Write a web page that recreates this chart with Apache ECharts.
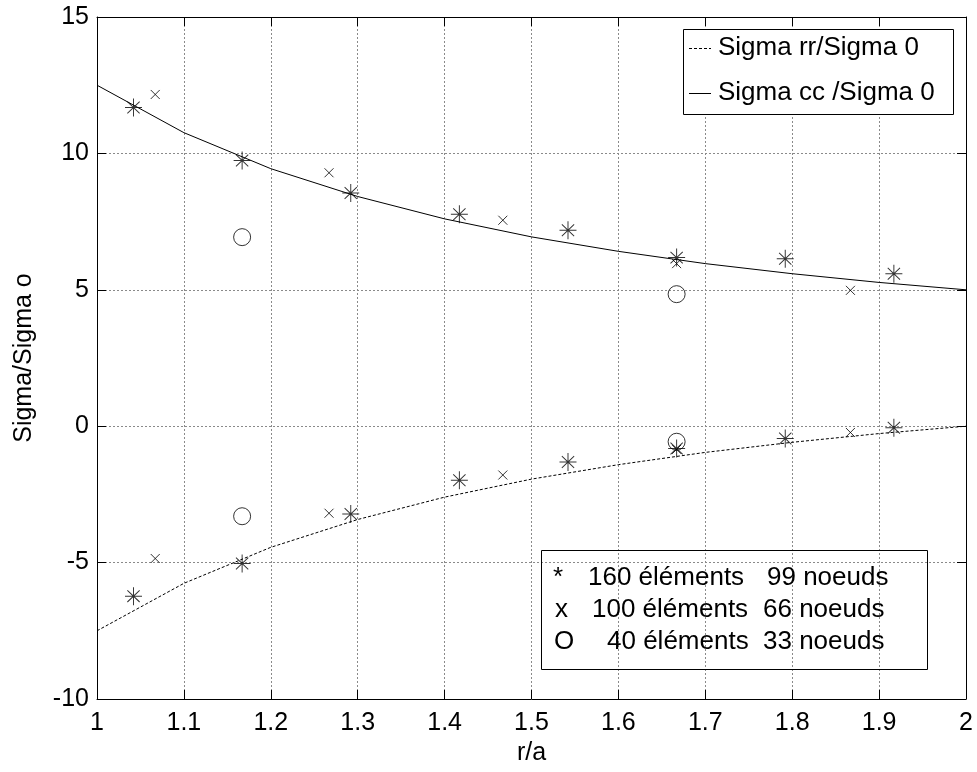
<!DOCTYPE html>
<html>
<head>
<meta charset="utf-8">
<script src="https://cdn.jsdelivr.net/npm/echarts@6/dist/echarts.min.js"></script>
<style>html,body{margin:0;padding:0;background:#fff;}#c{width:977px;height:772px;}</style>
</head>
<body>
<div id="c"></div>
<script>
// ---- data ----
const rLine  = [1.0, 1.1, 1.2, 1.3, 1.4, 1.5, 1.6, 1.7, 1.8, 1.9, 2.0];
const rrLine = [-7.50, -5.76, -4.44, -3.42, -2.60, -1.94, -1.41, -0.96, -0.59, -0.27, 0.00];
const ccLine = [12.50, 10.76, 9.44, 8.42, 7.60, 6.94, 6.41, 5.96, 5.59, 5.27, 5.00];

const r160  = [1.042, 1.167, 1.292, 1.417, 1.542, 1.667, 1.792, 1.917];
const cc160 = [11.68, 9.74, 8.55, 7.77, 7.18, 6.18, 6.14, 5.59];
const rr160 = [-6.23, -5.03, -3.22, -1.98, -1.31, -0.82, -0.45, -0.06];

const r100  = [1.067, 1.267, 1.467, 1.667, 1.867];
const cc100 = [12.16, 9.29, 7.55, 5.96, 4.98];
const rr100 = [-4.85, -3.19, -1.79, -0.85, -0.23];

const r40  = [1.167, 1.667];
const cc40 = [6.93, 4.84];
const rr40 = [-3.30, -0.57];

const lineNames = ['Sigma rr/Sigma 0', 'Sigma cc /Sigma 0'];
const meshRows = [
  ['*', '160 éléments', '99 noeuds'],
  ['x', '100 éléments', '66 noeuds'],
  ['O', '40 éléments', '33 noeuds']
];
const xLabel = 'r/a';
const yLabel = 'Sigma/Sigma o';

// ---- chart ----
const FONT = 'Liberation Sans, Arial, Helvetica, sans-serif';
const zip = (a, b) => a.map((v, i) => [v, b[i]]);
const STAR = 'path://M0,-10 L0,10 M-9,0 L9,0 M-6.5,-6.5 L6.5,6.5 M-6.5,6.5 L6.5,-6.5';
const CROSS = 'path://M-1,-1 L1,1 M-1,1 L1,-1';
const markStyle = { color: 'rgba(0,0,0,0)', borderColor: '#000', borderWidth: 1 };

const chart = echarts.init(document.getElementById('c'), null, { renderer: 'canvas' });
const gridLine = { show: true, lineStyle: { color: '#8a8a8a', width: 1, type: [2, 2] } };
const axisLine = { show: true, onZero: false, lineStyle: { color: '#000', width: 1 } };
const tickIn = { show: true, inside: true, length: 9, lineStyle: { color: '#000' } };

function scatter(name, xs, ys, symbol, size) {
  return {
    name, type: 'scatter', data: zip(xs, ys), symbol, symbolSize: size,
    itemStyle: markStyle, z: 5, silent: true, animation: false
  };
}

const LF = '26px ' + FONT;
function txt(x, y, s) {
  return { type: 'text', z: 101, x, y, style: { text: s, font: LF, fill: '#000', textVerticalAlign: 'middle' } };
}

chart.setOption({
  animation: false,
  backgroundColor: '#fff',
  textStyle: { fontFamily: FONT },
  grid: { left: 97, top: 17, right: 11, bottom: 73 },
  xAxis: [{
    type: 'value', min: 1, max: 2, interval: 0.1,
    axisLine, axisTick: tickIn, splitLine: gridLine,
    axisLabel: { color: '#000', fontSize: 25, fontFamily: FONT, margin: 12,
      formatter: v => String(+v.toFixed(1)) },
    name: xLabel, nameLocation: 'middle', nameGap: 42,
    nameTextStyle: { color: '#000', fontSize: 25, fontFamily: FONT }
  }, {
    type: 'value', position: 'top', min: 1, max: 2, interval: 0.1,
    axisLine, axisTick: tickIn, splitLine: { show: false }, axisLabel: { show: false }
  }],
  yAxis: [{
    type: 'value', min: -10, max: 15, interval: 5,
    axisLine, axisTick: tickIn, splitLine: gridLine,
    axisLabel: { color: '#000', fontSize: 25, fontFamily: FONT, margin: 8 },
    name: yLabel, nameLocation: 'middle', nameGap: 60,
    nameTextStyle: { color: '#000', fontSize: 25, fontFamily: FONT }
  }, {
    type: 'value', position: 'right', min: -10, max: 15, interval: 5,
    axisLine, axisTick: tickIn, splitLine: { show: false }, axisLabel: { show: false }
  }],
  series: [
    { name: lineNames[0], type: 'line', data: zip(rLine, rrLine), symbol: 'none',
      lineStyle: { color: '#000', width: 1, type: [3, 2] }, z: 3 },
    { name: lineNames[1], type: 'line', data: zip(rLine, ccLine), symbol: 'none',
      lineStyle: { color: '#000', width: 1, type: 'solid' }, z: 3 },
    scatter('160cc', r160, cc160, STAR, [17, 18]),
    scatter('160rr', r160, rr160, STAR, [17, 18]),
    scatter('100cc', r100, cc100, CROSS, 9),
    scatter('100rr', r100, rr100, CROSS, 9),
    scatter('40cc', r40, cc40, 'circle', 17),
    scatter('40rr', r40, rr40, 'circle', 17)
  ],
  graphic: [
    // upper legend (line styles)
    { type: 'rect', z: 100, shape: { x: 683.5, y: 29.5, width: 270, height: 85 },
      style: { fill: '#fff', stroke: '#000', lineWidth: 1 } },
    { type: 'line', z: 101, shape: { x1: 689, y1: 48.5, x2: 711, y2: 48.5 },
      style: { stroke: '#000', lineWidth: 1, lineDash: [3, 2] } },
    { type: 'line', z: 101, shape: { x1: 689, y1: 93.5, x2: 711, y2: 93.5 },
      style: { stroke: '#000', lineWidth: 1 } },
    txt(718, 48, lineNames[0]),
    txt(718, 93, lineNames[1]),
    // lower annotation box (transparent)
    { type: 'rect', z: 100, shape: { x: 541.5, y: 550.5, width: 386, height: 119 },
      style: { fill: 'none', stroke: '#000', lineWidth: 1 } },
    txt(553, 578, meshRows[0][0]), txt(588, 578, meshRows[0][1]), txt(767, 578, meshRows[0][2]),
    txt(555, 610, meshRows[1][0]), txt(592, 610, meshRows[1][1]), txt(763, 610, meshRows[1][2]),
    txt(554, 642, meshRows[2][0]), txt(607, 642, meshRows[2][1]), txt(763, 642, meshRows[2][2])
  ]
});
</script>
</body>
</html>
